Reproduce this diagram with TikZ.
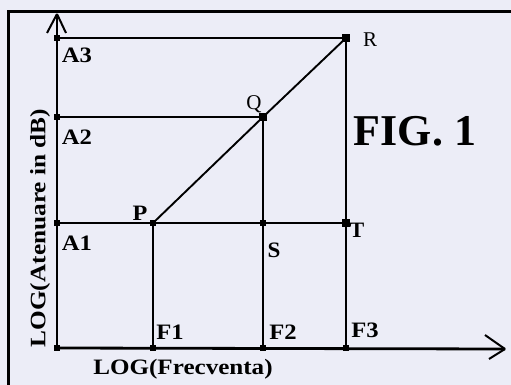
\documentclass[tikz,border=0pt]{standalone}
\usepackage{fontspec}
\setmainfont{Liberation Serif}
\definecolor{paper}{RGB}{236,237,247}
\newcommand\widetxt[2]{\scalebox{#1}[1]{#2}}
\begin{document}
\begin{tikzpicture}[x=1pt,y=-1pt,
  dot/.style={rectangle,fill=black,inner sep=0pt,minimum size=5.5pt},
  bigdot/.style={dot,minimum size=7.5pt},
  lbl/.style={inner sep=0pt,font=\fontsize{22}{22}\selectfont\bfseries},
  lblr/.style={inner sep=0pt,font=\fontsize{21}{21}\selectfont},
  axis/.style={line width=2.8pt},
  grid/.style={line width=1.5pt},
  diag/.style={line width=1.9pt},
  frame/.style={line width=3pt}]
\useasboundingbox (0,0) rectangle (511,385);
\fill[paper] (0,0) rectangle (511,385);
% frame
\coordinate (fbl) at (8,386);
\coordinate (ftl) at (8,12);
\coordinate (ftr) at (513,12);
\draw[frame] (fbl) -- (ftl) -- (ftr);
% points
\node[dot] (O)  at (57,348) {};
\node[dot] (A1) at (57,223) {};
\node[dot] (A2) at (57,117) {};
\node[dot] (A3) at (57,38) {};
\node[dot] (P)  at (153,223) {};
\node[bigdot] (Q)  at (263,117) {};
\node[bigdot] (R)  at (346,38) {};
\node[dot] (S)  at (263,223) {};
\node[bigdot] (T)  at (346,223) {};
\node[dot] (F1) at (153,348) {};
\node[dot] (F2) at (263,348) {};
\node[dot] (F3) at (346,348) {};
\coordinate (xend) at (505,349);
\coordinate (yend) at (57,14);
% axes
\draw[axis] (O.center) -- (xend);
\draw[axis] (O.center) -- (yend);
\draw[line width=2pt] (xend) -- ++(-20,-14);
\draw[line width=2pt] (xend) -- ++(-16,10);
\draw[line width=2pt] (yend) -- ++(-10,19);
\draw[line width=2pt] (yend) -- ++(9,19);
% grid lines
\draw[grid] (A3.center) -- (R.center);
\draw[grid] (A2.center) -- (Q.center);
\draw[grid] (A1.center) -- (P.center) -- (S.center) -- (T.center);
\draw[grid] (P.center) -- (F1.center);
\draw[grid] (Q.center) -- (S.center) -- (F2.center);
\draw[grid] (R.center) -- (T.center) -- (F3.center);
\draw[diag] (P.center) -- (Q.center) -- (R.center);
% labels
\node[lbl] (lA3) at (77,55) {\widetxt{1.12}{A3}};
\node[lbl] (lA2) at (77,137) {\widetxt{1.12}{A2}};
\node[lbl] (lA1) at (77,243) {\widetxt{1.12}{A1}};
\node[lbl] (lP) at (140,213) {\widetxt{1.1}{P}};
\node[lblr] (lQ) at (254,104) {Q};
\node[lblr] (lR) at (370,40) {R};
\node[lbl] (lS) at (274,250) {\widetxt{1.05}{S}};
\node[lbl] (lT) at (357,230) {T};
\node[lbl] (lF1) at (170,332) {\widetxt{1.12}{F1}};
\node[lbl] (lF2) at (283,332) {\widetxt{1.12}{F2}};
\node[lbl] (lF3) at (365,330) {\widetxt{1.12}{F3}};
\node[lbl] (xl) at (183,369) {\widetxt{1.14}{LOG(Frecventa)}};
\node[lbl,rotate=90] (yl) at (40,228) {\widetxt{1.15}{LOG(Atenuare in dB)}};
\node[inner sep=0pt,font=\fontsize{44}{44}\selectfont\bfseries] (fig) at (415,131) {FIG. 1};
\end{tikzpicture}
\end{document}
